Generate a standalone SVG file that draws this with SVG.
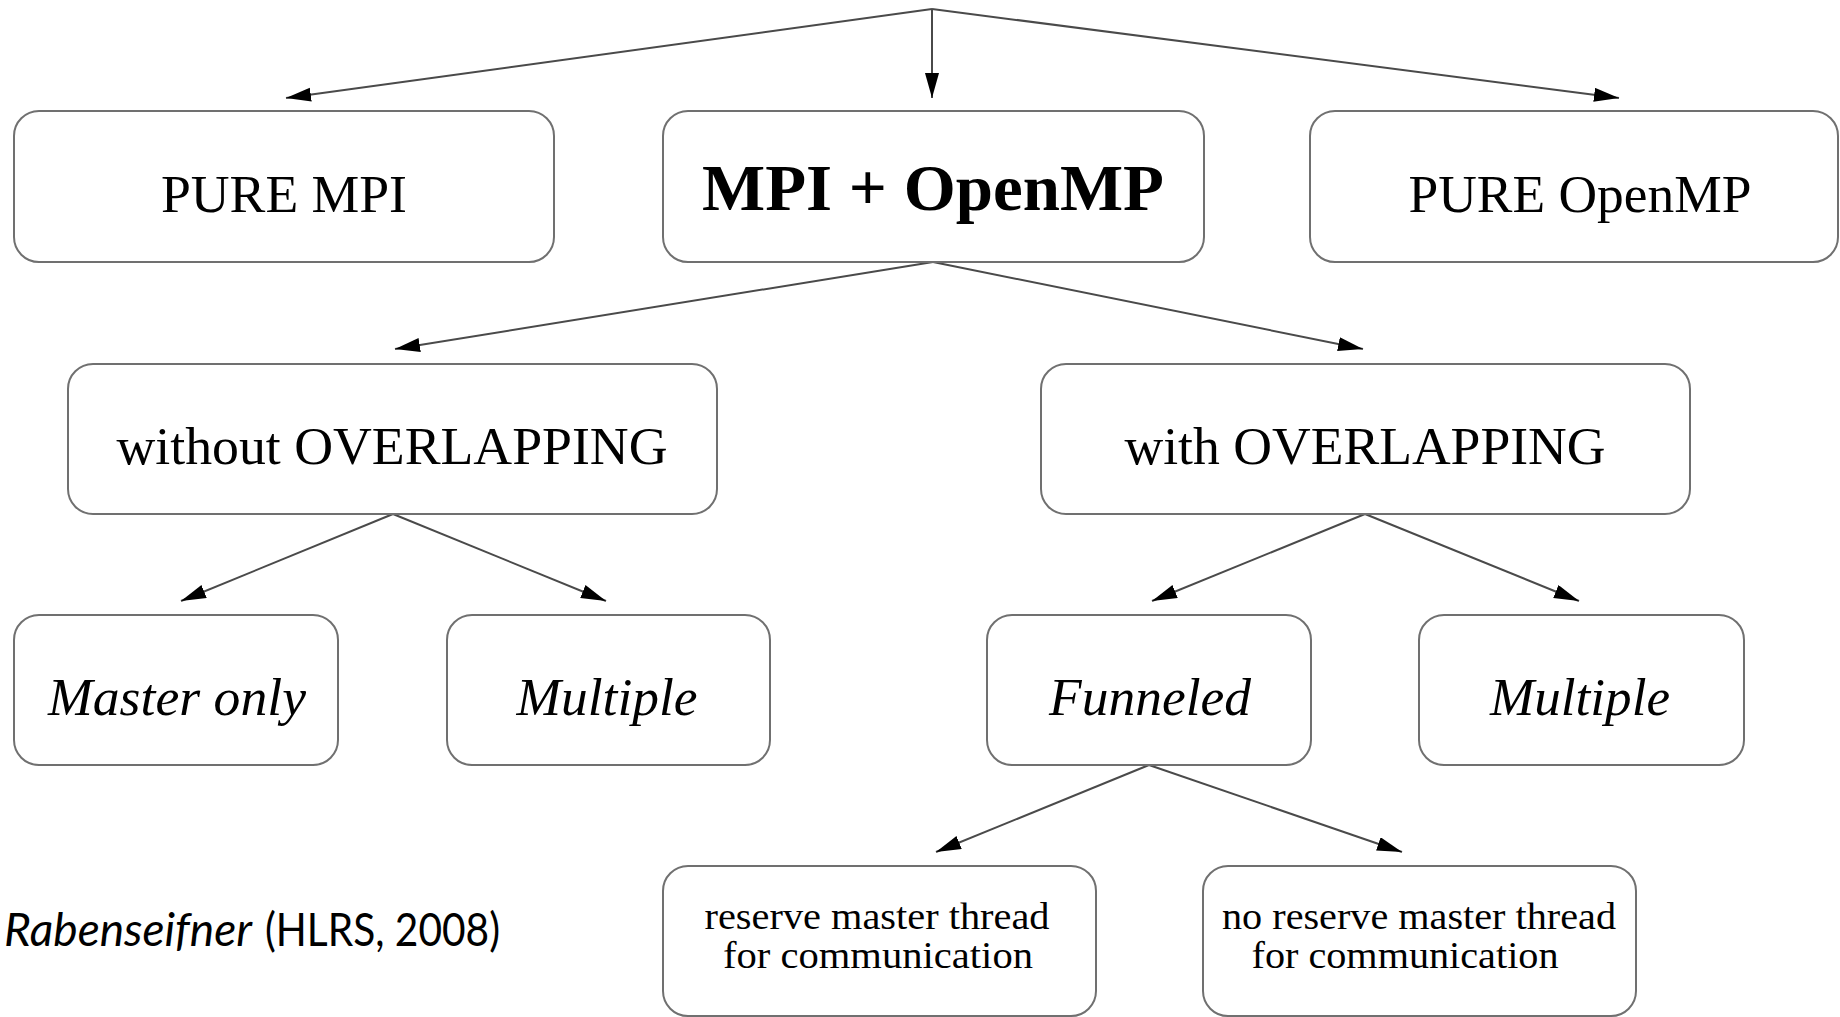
<svg xmlns="http://www.w3.org/2000/svg" width="1840" height="1017" viewBox="0 0 1840 1017">
<style>
.box{fill:#fff;stroke:#707070;stroke-width:2}
.t{font-family:"Liberation Serif","Times New Roman",serif;fill:#000;text-anchor:middle}
.big{font-size:52px}
.bold{font-size:66px;font-weight:bold}
.it{font-size:53px;font-style:italic}
.sm{font-size:37px}
.edge{stroke:#4a4a4a;stroke-width:2;fill:none;marker-end:url(#ah)}
.cap{font-family:Lato,"Open Sans",sans-serif;font-size:46px;fill:#000}
</style>
<defs>
<marker id="ah" markerUnits="userSpaceOnUse" markerWidth="28" markerHeight="16" refX="25" refY="7" orient="auto">
<path d="M0,0 L25,7 L0,14 z" fill="#000"/>
</marker>
</defs>
<rect width="1840" height="1017" fill="#fff"/>
<g id="connectors">
<line class="edge" x1="932" y1="9" x2="286" y2="98"/>
<line class="edge" x1="932" y1="9" x2="932" y2="98"/>
<line class="edge" x1="932" y1="9" x2="1619" y2="98"/>
<line class="edge" x1="933" y1="262" x2="395" y2="349"/>
<line class="edge" x1="933" y1="262" x2="1363" y2="349"/>
<line class="edge" x1="393" y1="514" x2="181" y2="601"/>
<line class="edge" x1="393" y1="514" x2="606" y2="601"/>
<line class="edge" x1="1365" y1="514" x2="1152" y2="601"/>
<line class="edge" x1="1365" y1="514" x2="1579" y2="601"/>
<line class="edge" x1="1149" y1="765" x2="936" y2="852"/>
<line class="edge" x1="1149" y1="765" x2="1402" y2="852"/>
</g>
<g id="pure-mpi">
<rect class="box" x="14" y="111" width="540" height="151" rx="25"/>
<text class="t big" x="284" y="212" textLength="246" lengthAdjust="spacingAndGlyphs">PURE MPI</text>
</g>
<g id="mpi-openmp">
<rect class="box" x="663" y="111" width="541" height="151" rx="25"/>
<text class="t bold" x="933" y="210" textLength="462" lengthAdjust="spacingAndGlyphs">MPI + OpenMP</text>
</g>
<g id="pure-openmp">
<rect class="box" x="1310" y="111" width="528" height="151" rx="25"/>
<text class="t big" x="1580" y="212" textLength="343" lengthAdjust="spacingAndGlyphs">PURE OpenMP</text>
</g>
<g id="without-overlapping">
<rect class="box" x="68" y="364" width="649" height="150" rx="25"/>
<text class="t big" x="392" y="464" textLength="551" lengthAdjust="spacingAndGlyphs">without OVERLAPPING</text>
</g>
<g id="with-overlapping">
<rect class="box" x="1041" y="364" width="649" height="150" rx="25"/>
<text class="t big" x="1365" y="464" textLength="481" lengthAdjust="spacingAndGlyphs">with OVERLAPPING</text>
</g>
<g id="master-only">
<rect class="box" x="14" y="615" width="324" height="150" rx="25"/>
<text class="t it" x="177" y="715" textLength="258" lengthAdjust="spacingAndGlyphs">Master only</text>
</g>
<g id="multiple-left">
<rect class="box" x="447" y="615" width="323" height="150" rx="25"/>
<text class="t it" x="607" y="715" textLength="181" lengthAdjust="spacingAndGlyphs">Multiple</text>
</g>
<g id="funneled">
<rect class="box" x="987" y="615" width="324" height="150" rx="25"/>
<text class="t it" x="1150" y="715" textLength="202" lengthAdjust="spacingAndGlyphs">Funneled</text>
</g>
<g id="multiple-right">
<rect class="box" x="1419" y="615" width="325" height="150" rx="25"/>
<text class="t it" x="1580" y="715" textLength="180" lengthAdjust="spacingAndGlyphs">Multiple</text>
</g>
<g id="reserve">
<rect class="box" x="663" y="866" width="433" height="150" rx="25"/>
<text class="t sm" x="877" y="929" textLength="345" lengthAdjust="spacingAndGlyphs">reserve master thread</text>
<text class="t sm" x="878" y="968" textLength="310" lengthAdjust="spacingAndGlyphs">for communication</text>
</g>
<g id="no-reserve">
<rect class="box" x="1203" y="866" width="433" height="150" rx="25"/>
<text class="t sm" x="1419" y="929" textLength="394" lengthAdjust="spacingAndGlyphs">no reserve master thread</text>
<text class="t sm" x="1405" y="968" textLength="307" lengthAdjust="spacingAndGlyphs">for communication</text>
</g>
<g id="caption">
<text class="cap" x="4" y="946" font-style="italic" textLength="248" lengthAdjust="spacingAndGlyphs">Rabenseifner</text>
<text class="cap" x="265" y="946" textLength="235" lengthAdjust="spacingAndGlyphs">(HLRS, 2008)</text>
</g>
</svg>
